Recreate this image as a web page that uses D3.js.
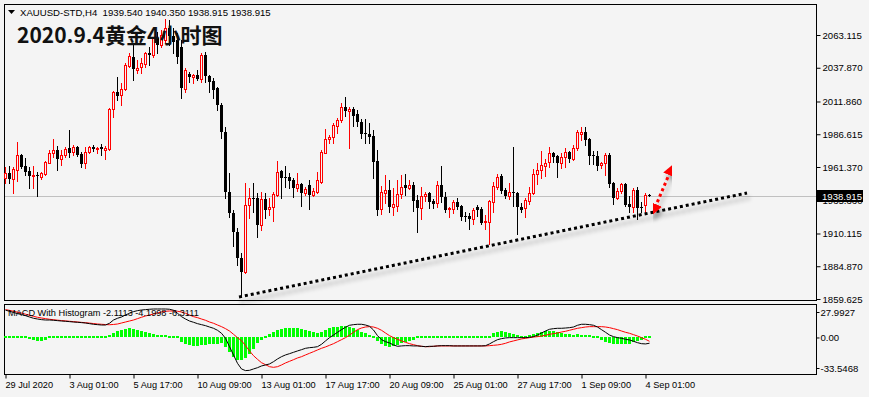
<!DOCTYPE html>
<html>
<head>
<meta charset="utf-8">
<script src="https://cdn.jsdelivr.net/npm/d3@7"></script>
<style>
body { margin: 0; background: #f4f4f4; }
svg { display: block; font-family: "Liberation Sans", Arial, sans-serif; }
</style>
</head>
<body>
<script>
// ---- data (XAUUSD H4, 29 Jul - 4 Sep 2020) ----
var symbolInfo = "XAUUSD-STD,H4  1939.540 1940.350 1938.915 1938.915";
var chartTitle = "2020.9.4黄金4小时图";
var macdTitle = "MACD With Histogram -2.1113 -4.1998 -6.3111";

var opens = [1952.9,1956.7,1952.1,1959.1,1970.6,1962.1,1958.5,1954.9,1955.2,1953.9,1956.0,1964.7,1972.2,1974.5,1967.5,1970.6,1976.0,1972.7,1977.0,1971.4,
  1964.2,1973.2,1977.0,1975.2,1977.0,1974.5,1975.2,2005.8,2019.4,2016.9,2021.5,2039.5,2045.9,2036.1,2038.7,2040.5,2049.5,2047.7,2060.6,2055.4,
  2059.3,2068.5,2062.3,2059.3,2053.9,2021.5,2032.8,2030.5,2032.3,2029.2,2047.7,2031.5,2027.9,2022.0,2009.2,1988.6,1942.3,1925.7,1911.5,1891.0,
  1880.2,1932.1,1937.2,1937.2,1916.7,1936.5,1928.8,1930.3,1939.8,1958.3,1953.9,1953.7,1951.1,1945.4,1948.5,1941.6,1947.5,1940.0,1942.3,1950.1,
  1972.4,1982.7,1984.7,1993.2,1997.6,2007.4,2004.8,2006.1,2002.2,1996.3,1987.8,1986.8,1985.3,1966.0,1928.8,1941.6,1943.6,1930.8,1931.5,1940.3,
  1947.5,1945.4,1947.5,1935.9,1930.0,1939.0,1941.6,1935.2,1933.4,1947.5,1938.5,1928.8,1928.8,1934.6,1931.3,1923.6,1923.6,1921.1,1930.8,1928.8,
  1918.7,1919.2,1934.6,1946.2,1954.7,1943.6,1939.3,1941.9,1941.1,1930.8,1929.5,1935.4,1941.1,1956.0,1959.1,1962.4,1965.5,1972.4,1969.9,1964.2,
  1968.8,1972.9,1967.3,1976.2,1986.8,1988.1,1982.7,1970.9,1969.9,1962.9,1964.2,1970.6,1948.8,1937.7,1942.9,1948.0,1932.9,1930.8,1943.6,1930.8,
  1932.1,1939.54];
var highs = [1961.6,1962.1,1961.6,1980.9,1971.4,1968.3,1961.6,1962.1,1957.7,1957.7,1966.0,1974.5,1983.0,1977.8,1974.5,1976.8,1989.9,1978.3,1977.8,1973.2,
  1977.0,1977.6,1978.3,1977.0,1979.1,1977.6,2007.1,2020.2,2030.5,2025.9,2041.3,2049.0,2055.4,2043.8,2045.2,2050.2,2054.1,2061.8,2065.7,2067.0,
  2075.4,2074.7,2068.5,2064.7,2059.3,2037.7,2034.8,2033.1,2036.1,2049.0,2050.2,2032.3,2029.7,2023.3,2010.5,1992.4,1956.5,1928.2,1914.1,1894.9,
  1948.8,1945.0,1948.8,1941.1,1942.3,1941.1,1937.2,1942.3,1966.0,1959.1,1962.4,1956.5,1953.1,1956.5,1949.3,1946.2,1951.4,1945.0,1957.3,1974.5,
  1990.7,1986.0,1995.1,1999.4,2010.5,2015.1,2007.4,2007.4,2005.3,1998.1,1998.4,1995.1,1989.9,1974.5,1947.0,1955.2,1951.4,1945.2,1951.4,1955.2,
  1956.0,1951.4,1950.1,1939.8,1946.2,1941.9,1942.3,1936.7,1950.6,1962.4,1941.9,1930.8,1935.9,1937.7,1932.1,1926.9,1925.7,1929.5,1932.1,1930.3,
  1924.4,1935.9,1949.6,1956.0,1955.7,1945.0,1948.8,1977.0,1942.3,1933.6,1937.2,1946.2,1959.6,1964.7,1973.7,1967.3,1977.0,1973.2,1970.6,1971.9,
  1975.8,1973.7,1978.3,1989.9,1992.4,1992.0,1983.5,1973.7,1973.7,1965.5,1971.9,1971.9,1950.1,1945.4,1948.8,1948.8,1939.0,1945.4,1946.2,1934.6,
  1941.1,1940.35];
var lows = [1948.8,1949.0,1941.3,1950.6,1960.6,1955.2,1945.2,1945.2,1939.2,1952.1,1955.2,1964.5,1969.3,1959.1,1962.9,1969.3,1969.3,1970.6,1969.9,1961.6,
  1960.4,1972.4,1973.7,1971.9,1970.6,1967.3,1974.5,2000.1,2013.0,2009.2,2020.7,2038.7,2028.4,2033.6,2034.1,2038.7,2040.0,2045.9,2049.0,2054.1,
  2057.7,2055.4,2049.2,2041.3,2014.3,2019.4,2027.1,2026.3,2028.4,2027.1,2027.1,2019.4,2014.3,2005.3,1983.5,1937.2,1923.1,1900.5,1885.8,1861.4,
  1879.4,1921.8,1926.9,1907.6,1912.8,1921.8,1924.4,1920.0,1939.0,1937.2,1946.2,1945.0,1938.5,1943.1,1931.3,1939.8,1929.0,1939.0,1941.6,1948.8,
  1971.9,1980.1,1980.1,1987.3,1996.3,2000.7,1975.8,1993.0,1993.0,1984.0,1980.1,1980.1,1953.1,1924.4,1924.9,1933.9,1926.9,1924.4,1927.7,1937.2,
  1939.8,1944.2,1927.5,1911.5,1921.3,1935.2,1930.0,1929.5,1930.8,1934.6,1926.5,1923.1,1926.1,1929.0,1920.5,1920.0,1913.6,1917.4,1923.8,1917.4,
  1913.4,1902.0,1926.5,1944.2,1941.1,1937.2,1936.7,1931.3,1909.7,1926.9,1923.1,1932.9,1940.6,1948.0,1952.7,1954.7,1961.6,1965.5,1953.9,1960.4,
  1961.6,1965.5,1966.8,1974.5,1982.2,1978.3,1963.5,1963.5,1959.1,1960.8,1955.2,1946.2,1932.6,1936.7,1941.6,1931.3,1926.5,1926.9,1921.3,1926.5,
  1926.5,1938.915];
var closes = [1956.7,1952.1,1959.8,1970.6,1961.6,1957.7,1954.7,1955.3,1954.7,1956.5,1965.2,1971.9,1974.5,1967.3,1970.6,1975.2,1972.4,1977.0,1970.6,1963.7,
  1973.2,1976.6,1975.0,1976.2,1975.0,1976.2,2006.1,2018.9,2016.1,2021.3,2040.0,2047.2,2036.7,2037.9,2041.3,2049.0,2047.7,2060.6,2055.4,2063.1,
  2068.5,2062.3,2057.7,2045.9,2022.0,2036.1,2030.5,2032.3,2029.2,2047.7,2031.5,2027.1,2020.7,2009.2,1988.6,1942.3,1925.7,1911.5,1891.0,1880.2,
  1932.1,1937.2,1936.7,1916.7,1936.7,1928.2,1930.3,1940.6,1957.3,1953.1,1953.4,1950.8,1945.4,1948.3,1941.6,1944.2,1939.8,1942.6,1951.1,1972.9,
  1983.0,1984.7,1993.7,1997.8,2007.4,2004.8,2006.1,2000.7,1996.3,1987.0,1986.6,1984.7,1965.5,1928.2,1942.3,1943.6,1930.3,1932.9,1940.6,1946.2,
  1945.4,1947.5,1935.2,1930.0,1939.0,1940.8,1934.6,1932.9,1947.5,1938.0,1928.2,1929.5,1934.6,1930.8,1923.1,1923.1,1921.1,1928.2,1928.2,1918.4,
  1919.7,1935.2,1946.7,1953.9,1942.9,1939.0,1941.9,1941.1,1930.8,1928.2,1935.9,1941.6,1956.0,1959.1,1962.9,1964.2,1971.9,1969.3,1964.2,1969.3,
  1972.9,1967.3,1975.8,1988.1,1988.1,1982.2,1970.1,1970.4,1962.1,1964.2,1970.6,1948.3,1937.7,1942.9,1948.0,1932.1,1930.8,1943.6,1929.5,1930.0,
  1939.8,1938.915];

var macdMain = [30.0,28.8,27.5,26.2,25.2,24.0,22.5,21.1,20.3,19.6,19.2,19.2,18.9,18.5,18.1,17.8,17.4,17.0,16.7,16.3,
  15.9,15.2,14.5,14.1,13.7,13.7,15.6,19.2,21.1,22.5,24.7,26.6,28.4,29.5,30.2,30.6,31.0,31.3,31.3,31.3,
  31.3,31.0,29.9,26.6,22.9,20.3,18.1,16.7,15.2,14.1,13.0,11.5,10.1,7.9,4.6,-0.9,-10.1,-19.2,-28.4,-34.6,
  -36.4,-36.1,-34.6,-33.2,-31.3,-30.2,-29.1,-26.6,-23.6,-21.1,-19.2,-17.8,-16.3,-14.8,-13.4,-11.9,-11.2,-10.8,-10.1,-7.5,
  -3.8,-0.2,2.7,5.7,8.6,11.2,13.4,14.1,14.5,14.5,13.7,12.3,8.2,2.0,-2.4,-4.6,-6.0,-8.2,-9.7,-9.3,
  -9.0,-9.0,-9.3,-9.3,-9.7,-10.1,-9.7,-9.7,-9.3,-9.0,-9.0,-9.0,-9.3,-9.3,-9.3,-9.3,-9.3,-9.3,-9.3,-9.3,
  -9.0,-7.1,-4.6,-2.4,-1.3,-0.5,-0.2,-0.2,-0.2,-0.2,-0.2,0.2,0.9,2.7,4.9,7.1,9.0,9.7,10.1,10.1,
  10.4,10.8,11.5,13.4,14.5,14.5,14.1,13.4,11.5,8.6,5.7,2.7,0.9,-0.2,-0.9,-2.0,-2.7,-4.2,-5.7,-6.8,
  -7.1,-6.3];
var macdSignal = [30.6,29.8,28.8,27.8,26.8,25.6,24.4,23.2,22.2,21.4,20.7,20.0,19.5,19.0,18.6,18.2,17.8,17.4,17.0,16.6,
  16.2,15.8,15.3,14.8,14.5,14.2,14.0,14.3,14.8,15.9,17.0,18.1,19.2,20.7,22.2,23.6,24.7,25.8,26.9,28.0,
  28.8,29.1,29.1,28.8,28.0,26.6,24.7,22.9,21.8,20.3,18.9,17.0,15.6,13.7,11.9,9.7,7.1,3.5,-0.2,-3.5,
  -9.0,-14.8,-20.0,-24.0,-27.7,-29.9,-32.1,-32.8,-32.1,-30.2,-28.0,-26.2,-24.4,-22.5,-21.1,-19.2,-17.4,-15.6,-13.7,-11.9,
  -10.4,-8.6,-6.8,-4.6,-2.4,-0.2,2.7,5.7,8.6,10.4,11.5,11.9,11.5,10.1,7.9,4.9,2.0,-0.2,-2.0,-3.8,
  -5.3,-6.8,-7.9,-9.0,-9.7,-10.1,-10.1,-9.7,-9.3,-9.3,-9.3,-9.3,-9.3,-9.3,-9.3,-9.3,-9.3,-9.3,-9.3,-9.3,
  -9.3,-9.0,-8.6,-8.2,-7.5,-6.4,-4.9,-3.8,-2.7,-1.6,-0.9,-0.2,0.5,0.9,1.6,2.4,3.5,4.2,4.9,6.0,
  6.8,7.9,9.0,10.1,10.8,11.5,11.9,11.9,11.9,11.9,11.5,10.8,9.7,8.6,7.1,5.7,4.6,3.1,1.6,-0.2,
  -2.0,-4.2];
var macdHist = [-1.5,-1.8,-1.8,-2.0,-2.0,-2.0,-2.2,-2.4,-3.5,-4.2,-2.4,-2.0,-2.0,-1.8,-1.8,-1.6,-1.6,-1.5,-1.5,-1.3,
  -1.3,-1.1,-0.9,-0.7,-0.5,-0.3,2.7,5.3,7.1,8.6,9.7,10.1,9.7,8.6,7.1,5.7,4.6,3.8,3.1,2.7,
  2.4,1.6,0.9,-2.0,-4.6,-6.8,-8.2,-9.0,-9.0,-8.2,-7.9,-7.5,-7.5,-6.8,-6.4,-10.1,-16.3,-21.1,-24.4,-24.7,
  -22.9,-18.5,-13.0,-6.4,-2.7,0.9,3.5,5.7,7.9,9.3,10.1,10.4,10.4,10.1,9.7,8.6,7.5,6.4,5.3,6.4,
  8.6,10.1,11.2,11.5,12.6,12.6,11.9,10.1,8.2,6.4,4.6,2.4,0.2,-3.8,-7.1,-9.0,-10.1,-9.3,-8.2,-6.4,
  -4.6,-3.5,-2.7,-2.0,-1.6,-1.3,-0.9,-0.5,0.4,0.5,0.4,0.4,0.3,0.3,0.4,0.3,0.4,0.3,0.3,0.4,
  0.5,1.6,4.6,6.4,6.8,6.4,5.3,3.5,2.4,2.0,2.0,2.4,3.5,4.9,6.0,7.1,7.5,7.1,6.4,5.3,
  4.2,3.5,3.1,3.5,3.1,2.7,2.4,1.3,-1.3,-3.1,-4.6,-5.7,-6.8,-7.1,-7.5,-7.5,-6.8,-5.3,-3.8,-2.4,
  -1.3,-2.1];

var priceTicks = [2063.115, 2037.870, 2011.860, 1986.615, 1961.370, 1935.360, 1910.115, 1884.870, 1859.625];
var macdTicks = [27.9927, 0, -33.5468];
var macdTickLabels = ["27.9927", "0.00", "-33.5468"];
var timeTickBars = [0, 16, 32, 48, 64, 80, 96, 112, 128, 144, 160];
var timeLabels = ["29 Jul 2020", "3 Aug 01:00", "5 Aug 17:00", "10 Aug 09:00", "13 Aug 01:00", "17 Aug 17:00",
  "20 Aug 09:00", "25 Aug 01:00", "27 Aug 17:00", "1 Sep 09:00", "4 Sep 01:00"];
var lastPrice = 1938.915;
// hand drawn support line and the red double arrow (bar index, price)
var trendLine = [{bar: 58.5, price: 1861.2}, {bar: 185.5, price: 1941.3}];
var arrowLine = [{bar: 162.5, price: 1930.0}, {bar: 166.3, price: 1957.8}];

// ---- layout ----
var W = 869, H = 397;
var main = {left: 4, right: 816, top: 4, bottom: 300};
var sub = {left: 4, right: 816, top: 304, bottom: 374};

var candles = opens.map(function (o, i) {
    return {i: i, o: o, h: highs[i], l: lows[i], c: closes[i]};
});

var x = d3.scaleLinear().domain([0, candles.length - 1]).range([5, 5 + 4 * (candles.length - 1)]);
var y = d3.scaleLinear().domain([1859.625, 2063.115]).range([299, 35]);
var ym = d3.scaleLinear().domain([-33.5468, 27.9927]).range([368, 312]);

var svg = d3.select("body").append("svg")
    .attr("width", W)
    .attr("height", H);

svg.append("rect").attr("width", W).attr("height", H).attr("fill", "#f4f4f4");

var defs = svg.append("defs");
var shadow = defs.append("filter").attr("id", "shadow")
    .attr("x", "-10%").attr("y", "-60%").attr("width", "120%").attr("height", "220%");
shadow.append("feDropShadow")
    .attr("dx", 2).attr("dy", 5).attr("stdDeviation", 2.2)
    .attr("flood-color", "#000").attr("flood-opacity", 0.35);

["arrowStart", "arrowEnd"].forEach(function (id) {
    defs.append("marker")
        .attr("id", id)
        .attr("viewBox", "0 0 10 10")
        .attr("refX", 3).attr("refY", 5)
        .attr("markerWidth", 4).attr("markerHeight", 4)
        .attr("orient", id === "arrowEnd" ? "auto" : "auto-start-reverse")
        .append("path").attr("d", "M0,0L10,5L0,10z").attr("fill", "#f00");
});

// panel frames
[main, sub].forEach(function (p) {
    svg.append("rect")
        .attr("x", p.left + 0.5).attr("y", p.top + 0.5)
        .attr("width", p.right - p.left).attr("height", p.bottom - p.top)
        .attr("fill", "#f4f4f4").attr("stroke", "#000");
});

var plotG = svg.append("g").attr("shape-rendering", "crispEdges");

// current price line
plotG.append("line")
    .attr("x1", main.left + 1).attr("x2", main.right)
    .attr("y1", Math.round(y(lastPrice)) + 0.5).attr("y2", Math.round(y(lastPrice)) + 0.5)
    .attr("stroke", "#c0c0c0");

// candles: red hollow = up bar, black filled = down bar
var cg = plotG.selectAll(".candle").data(candles).enter().append("g").attr("class", "candle");
cg.append("line")
    .attr("x1", function (d) { return x(d.i) + 0.5; })
    .attr("x2", function (d) { return x(d.i) + 0.5; })
    .attr("y1", function (d) { return Math.round(y(d.h)); })
    .attr("y2", function (d) { return Math.round(y(d.l)) + 1; })
    .attr("stroke", function (d) { return d.c >= d.o ? "#f00" : "#000"; });
cg.append("rect")
    .attr("x", function (d) { return d.c >= d.o ? x(d.i) - 0.5 : x(d.i) - 1; })
    .attr("y", function (d) {
        var t = Math.round(y(Math.max(d.o, d.c)));
        return d.c >= d.o ? t + 0.5 : t;
    })
    .attr("width", function (d) { return d.c >= d.o ? 2 : 3; })
    .attr("height", function (d) {
        var h = Math.round(y(Math.min(d.o, d.c))) - Math.round(y(Math.max(d.o, d.c)));
        return Math.max(h, 1);
    })
    .attr("fill", function (d) { return d.c >= d.o ? "#f4f4f4" : "#000"; })
    .attr("stroke", function (d) { return d.c >= d.o ? "#f00" : "none"; });

// support line with shadow
var tl = svg.append("g").attr("filter", "url(#shadow)");
tl.append("line")
    .attr("x1", x(trendLine[0].bar)).attr("y1", y(trendLine[0].price))
    .attr("x2", x(trendLine[1].bar)).attr("y2", y(trendLine[1].price))
    .attr("stroke", "#000").attr("stroke-width", 3)
    .attr("stroke-dasharray", "3,3");

// red dotted double arrow
var ar = svg.append("g").attr("filter", "url(#shadow)");
ar.append("line")
    .attr("x1", x(arrowLine[0].bar)).attr("y1", y(arrowLine[0].price))
    .attr("x2", x(arrowLine[1].bar)).attr("y2", y(arrowLine[1].price))
    .attr("stroke", "#f00").attr("stroke-width", 3)
    .attr("stroke-dasharray", "3,3")
    .attr("marker-start", "url(#arrowStart)")
    .attr("marker-end", "url(#arrowEnd)");

// price axis
var yAxis = svg.append("g")
    .attr("transform", "translate(" + (main.right + 0.5) + ",0)")
    .call(d3.axisRight(y).tickValues(priceTicks).tickSize(4).tickPadding(2)
        .tickFormat(d3.format(".3f")));
yAxis.select(".domain").remove();
yAxis.selectAll("text").attr("font-size", "9.6px").attr("fill", "#000")
    .attr("font-family", "Liberation Sans, Arial, sans-serif");

// last price tag (covers the tick label under it, as in MT4)
var ly = Math.round(y(lastPrice));
svg.append("rect").attr("x", 817).attr("y", ly - 6).attr("width", 46).attr("height", 12).attr("fill", "#000");
svg.append("text").attr("x", 822).attr("y", ly + 3.5)
    .attr("font-size", "9.6px").attr("fill", "#fff")
    .text(d3.format(".3f")(lastPrice));

// header
svg.append("path").attr("d", "M8,10L15,10L11.5,14Z").attr("fill", "#000");
svg.append("text").attr("x", 20).attr("y", 16)
    .attr("font-size", "9.6px").attr("fill", "#000")
    .attr("xml:space", "preserve").style("white-space", "pre")
    .text(symbolInfo);

svg.append("text").attr("x", 17).attr("y", 43)
    .attr("font-family", "'Noto Sans CJK SC', 'Noto Sans', sans-serif")
    .attr("font-weight", "bold").attr("font-size", "21px")
    .attr("fill", "#111")
    .text(chartTitle);

// ---- MACD panel ----
var mg = svg.append("g").attr("shape-rendering", "crispEdges");
var zeroY = ym(0);
mg.selectAll(".hist").data(macdHist).enter().append("rect")
    .attr("class", "hist")
    .attr("x", function (d, i) { return x(i) - 1; })
    .attr("width", 3)
    .attr("y", function (d) {
        var h = Math.abs(ym(d) - zeroY);
        return h < 2 ? zeroY - 1 : Math.min(ym(d), zeroY);
    })
    .attr("height", function (d) { return Math.max(Math.abs(ym(d) - zeroY), 2); })
    .attr("fill", "#00ff00");

var macdLine = d3.line()
    .x(function (d, i) { return x(i) + 0.5; })
    .y(function (d) { return ym(d); });

svg.append("path").datum(macdSignal).attr("d", macdLine)
    .attr("fill", "none").attr("stroke", "#f00").attr("stroke-width", 1);
svg.append("path").datum(macdMain).attr("d", macdLine)
    .attr("fill", "none").attr("stroke", "#000").attr("stroke-width", 1);

svg.append("text").attr("x", 8).attr("y", 316)
    .attr("font-size", "9.2px").attr("fill", "#000")
    .text(macdTitle);

var mAxis = svg.append("g")
    .attr("transform", "translate(" + (sub.right + 0.5) + ",0)")
    .call(d3.axisRight(ym).tickValues(macdTicks).tickSize(3).tickPadding(1)
        .tickFormat(function (d, i) { return macdTickLabels[i]; }));
mAxis.select(".domain").remove();
mAxis.selectAll("text").attr("font-size", "9.6px").attr("fill", "#000")
    .attr("font-family", "Liberation Sans, Arial, sans-serif");

// time axis
var xAxis = svg.append("g")
    .attr("transform", "translate(0," + (sub.bottom + 0.5) + ")")
    .call(d3.axisBottom(x).tickValues(timeTickBars).tickSize(4).tickPadding(3)
        .tickFormat(function (d, i) { return timeLabels[i]; }));
xAxis.select(".domain").remove();
xAxis.selectAll(".tick line").attr("transform", "translate(0.5,0)");
xAxis.selectAll("text")
    .attr("text-anchor", "start").attr("x", 0)
    .attr("font-size", "9.2px").attr("fill", "#000")
    .attr("font-family", "Liberation Sans, Arial, sans-serif");
</script>
</body>
</html>
